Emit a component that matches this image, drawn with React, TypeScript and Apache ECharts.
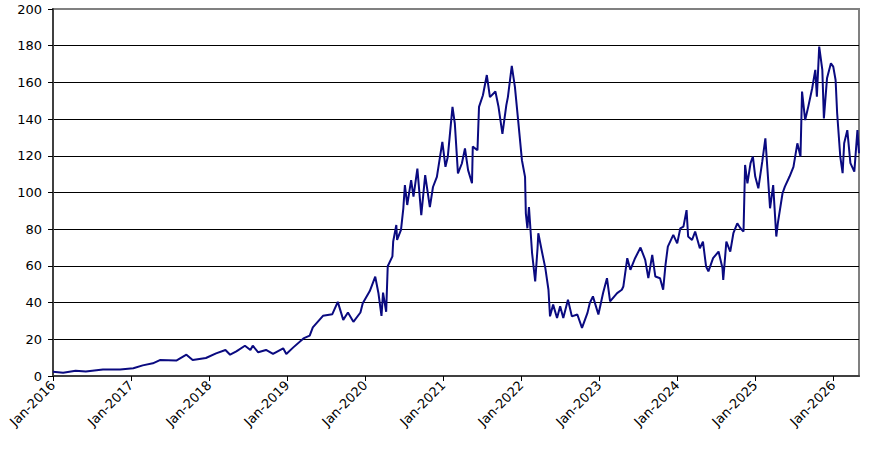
import React, { useEffect, useRef } from "react";
import * as echarts from "echarts";

// x positions as decimal years
const years = [
  2016.0, 2016.13, 2016.29, 2016.42, 2016.64, 2016.86, 2017.03, 2017.15, 2017.28, 2017.37,
  2017.58, 2017.71, 2017.79, 2017.96, 2018.09, 2018.21, 2018.27, 2018.35, 2018.46, 2018.53,
  2018.56, 2018.63, 2018.73, 2018.82, 2018.95, 2018.99, 2019.08, 2019.21, 2019.29, 2019.33,
  2019.46, 2019.58, 2019.65, 2019.72, 2019.78, 2019.85, 2019.94, 2019.97, 2020.06, 2020.13,
  2020.17, 2020.21, 2020.23, 2020.27, 2020.29, 2020.35, 2020.36, 2020.4, 2020.41, 2020.46,
  2020.49, 2020.51, 2020.54, 2020.59, 2020.62, 2020.67, 2020.72, 2020.77, 2020.83, 2020.87,
  2020.92, 2020.99, 2021.03, 2021.06, 2021.12, 2021.15, 2021.19, 2021.24, 2021.28, 2021.32,
  2021.37, 2021.38, 2021.44, 2021.46, 2021.51, 2021.56, 2021.6, 2021.67, 2021.71, 2021.76,
  2021.81, 2021.83, 2021.88, 2021.92, 2021.96, 2022.01, 2022.05, 2022.06, 2022.08, 2022.1,
  2022.14, 2022.18, 2022.21, 2022.22, 2022.27, 2022.31, 2022.35, 2022.37, 2022.41, 2022.46,
  2022.5, 2022.54, 2022.6, 2022.65, 2022.72, 2022.78, 2022.85, 2022.88, 2022.92, 2022.99,
  2023.05, 2023.1, 2023.14, 2023.23, 2023.29, 2023.31, 2023.36, 2023.4, 2023.46, 2023.53,
  2023.59, 2023.63, 2023.68, 2023.72, 2023.78, 2023.82, 2023.85, 2023.88, 2023.95, 2024.0,
  2024.04, 2024.08, 2024.12, 2024.14, 2024.19, 2024.23, 2024.29, 2024.33, 2024.37, 2024.4,
  2024.46, 2024.53, 2024.58, 2024.59, 2024.63, 2024.68, 2024.72, 2024.77, 2024.81, 2024.85,
  2024.87, 2024.9, 2024.94, 2024.97, 2025.0, 2025.04, 2025.09, 2025.13, 2025.19, 2025.23,
  2025.27, 2025.29, 2025.35, 2025.38, 2025.44, 2025.49, 2025.54, 2025.58, 2025.6, 2025.64,
  2025.68, 2025.73, 2025.77, 2025.79, 2025.82, 2025.86, 2025.88, 2025.92, 2025.97, 2026.0,
  2026.03, 2026.05, 2026.09, 2026.12, 2026.14, 2026.18, 2026.22, 2026.27, 2026.31, 2026.33,
];

const prices = [
  2.3, 1.8, 2.8, 2.4, 3.6, 3.5, 4.2, 5.8, 6.9, 8.7,
  8.4, 11.6, 8.7, 9.8, 12.3, 14.2, 11.6, 13.4, 16.5, 14.2,
  16.5, 12.9, 14.2, 12.0, 15.1, 12.0, 15.6, 20.5, 22, 26.5,
  32.8, 33.7, 40.4, 30.6, 34.6, 29.5, 34.6, 39.6, 46.3, 54.1,
  45.4, 32.8, 45.4, 35, 59.8, 65.2, 73.3, 82.3, 74.2, 79.6,
  91.4, 104, 93.2, 106.7, 97.7, 113, 87.7, 109.5, 92, 103,
  108.5, 127.6, 114, 119.5, 146.7, 137.6, 110.4, 115.8, 124, 112.2,
  105, 125, 123, 146.7, 153, 164, 152, 155, 146.7, 132,
  147.6, 152, 169, 157.6, 140, 117.6, 108.5, 88.6, 80.5, 92,
  67, 51.5, 69.6, 77.8, 67, 58.8, 47, 32.5, 38.9, 31.6,
  38, 31.6, 41.6, 32.5, 33.5, 26.2, 34.4, 39.8, 43.4, 33.5,
  45.2, 53.3, 40.7, 45.2, 47, 48.8, 64.2, 57.9, 64.2, 70,
  63.3, 53.3, 66, 54.2, 53.3, 47, 60.6, 70.5, 76.9, 72.3,
  80.5, 81.4, 90.4, 76, 74.1, 78.7, 69.6, 73.2, 59.7, 57,
  64.2, 67.8, 58.8, 52.4, 73.2, 67.8, 77.8, 83.2, 80.5, 78.7,
  115, 105, 116, 119.6, 108.7, 102.3, 116.8, 129.5, 91.4, 104,
  76, 83.3, 99.6, 103.2, 108.7, 114, 126.8, 119.6, 155, 139.5,
  146.8, 156.8, 166.8, 152.2, 179.5, 166.8, 140.4, 162.2, 170.4, 168.6,
  161.3, 143.2, 119.6, 110.5, 126.8, 134, 116, 111.4, 134, 121.4,
];

const tickYears = [2016, 2017, 2018, 2019, 2020, 2021, 2022, 2023, 2024, 2025, 2026];
const xMin = 2016;
const xMax = 2026.33;

export default function App() {
  const ref = useRef<HTMLDivElement>(null);

  useEffect(() => {
    if (!ref.current) return;
    const chart = echarts.init(ref.current, undefined, { renderer: "svg" });
    const font = "DejaVu Sans";
    chart.setOption({
      animation: false,
      backgroundColor: "#ffffff",
      textStyle: { fontFamily: font },
      grid: {
        left: 53,
        right: 24,
        top: 9,
        bottom: 73,
        show: true,
        borderColor: "#808080",
        borderWidth: 2,
        backgroundColor: "transparent",
      },
      xAxis: {
        type: "value",
        min: xMin,
        max: xMax,
        interval: 1,
        axisLine: { show: true, lineStyle: { color: "#404040", width: 2 } },
        axisTick: {
          show: true,
          length: 5,
          lineStyle: { color: "#000000", width: 1 },
          customValues: tickYears,
        },
        axisLabel: {
          customValues: tickYears,
          rotate: 45,
          margin: 7,
          color: "#000000",
          fontSize: 13,
          fontFamily: font,
          formatter: (v: number) => "Jan-" + Math.round(v),
        },
        splitLine: { show: false },
      },
      yAxis: {
        type: "value",
        min: 0,
        max: 200,
        interval: 20,
        axisLine: { show: true, lineStyle: { color: "#404040", width: 2 } },
        axisTick: { show: true, length: 5, lineStyle: { color: "#000000", width: 1 } },
        axisLabel: {
          margin: 11,
          color: "#000000",
          fontSize: 13,
          fontFamily: font,
        },
        splitLine: {
          show: true,
          showMinLine: false,
          showMaxLine: false,
          lineStyle: { color: "#000000", width: 1 },
        },
      },
      series: [
        {
          type: "line",
          data: years.map((y, i) => [y, prices[i]]),
          showSymbol: false,
          symbol: "none",
          lineStyle: { color: "#0a0a80", width: 2 },
          z: 3,
        },
      ],
    });
    return () => chart.dispose();
  }, []);

  return (
    <div
      ref={ref}
      style={{ position: "fixed", left: 0, top: 0, width: 883, height: 449, background: "#fff" }}
    />
  );
}
